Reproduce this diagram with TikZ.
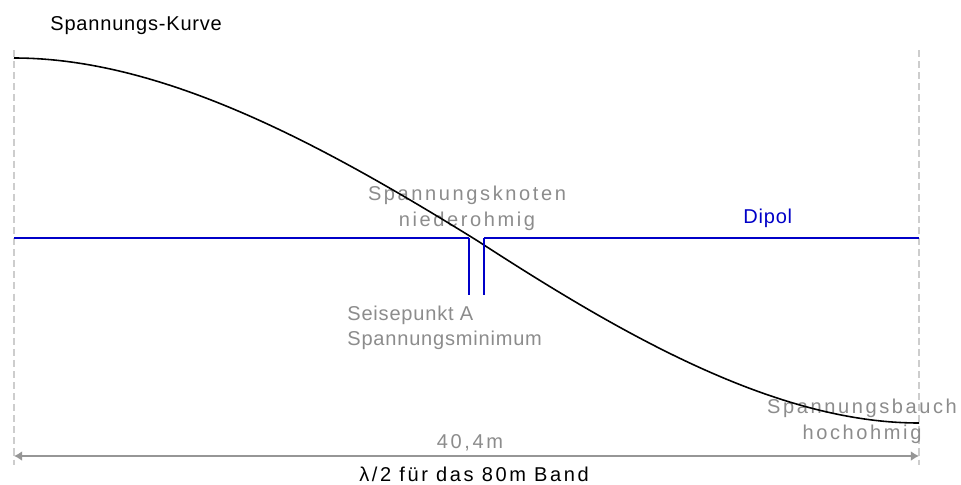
\documentclass[tikz,border=0pt]{standalone}
\usepackage{fontspec}
\usepackage{tikz}
\usetikzlibrary{positioning,arrows.meta}
\newfontfamily\plainfont[LetterSpace=4]{Liberation Sans}
\newfontfamily\widefont[LetterSpace=13]{Liberation Sans}
\definecolor{dipolblau}{RGB}{0,0,200}
\definecolor{grautext}{RGB}{140,140,140}
\definecolor{hellgrau}{RGB}{205,205,205}
\definecolor{massgrau}{RGB}{150,150,150}

\begin{document}
\begin{tikzpicture}[x=0.02cm, y=-0.02cm]
\tikzstyle{schrift}=[inner sep=0pt, font=\plainfont\fontsize{11.4}{14.4}\selectfont]
\tikzstyle{weit}=[inner sep=0pt, text=grautext, font=\widefont\fontsize{11.4}{14.8}\selectfont]
\tikzstyle{hilfslinie}=[draw=hellgrau, line width=1.1pt, dash pattern=on 4pt off 2.3pt]
\tikzstyle{kurve}=[draw=black, line width=0.9pt]
\tikzstyle{dipol}=[draw=dipolblau, line width=1.7pt]
\tikzstyle{speisung}=[draw=dipolblau, line width=1.1pt]
\tikzstyle{masslinie}=[draw=massgrau, line width=1.1pt, <->, >={Latex[length=4.6pt,width=5.6pt]}]
\fill[white] (0,0) rectangle (961,484);
\useasboundingbox (0,0) rectangle (961,484);
% Hilfslinien links und rechts
\coordinate (obenL) at (14,50);
\coordinate (untenL) at (14,465);
\coordinate (obenR) at (919,50);
\coordinate (untenR) at (919,465);
\draw[hilfslinie] (obenL) -- (untenL);
\draw[hilfslinie] (obenR) -- (untenR);
% Beschriftungen
\node[schrift, anchor=base west] (titel) at (50,30) {Spannungs-Kurve};
\node[schrift, anchor=base west, text=dipolblau] (dipoltext) at (743,223) {Dipol};
\node[weit, anchor=north, align=center] (knoten) at (467,185.5) {Spannungsknoten\\niederohmig};
\node[schrift, anchor=north west, align=left, text=grautext] (speisepunkt) at (347,305.5) {Seisepunkt A\\Spannungsminimum};
\node[weit, anchor=north, align=center] (bauch) at (862,399) {Spannungsbauch\\hochohmig};
\node[weit, anchor=base] (laenge) at (470,448) {40,4m};
\node[weit, anchor=base, text=black] (band) at (474,481) {λ/2 für das 80m Band};
% Spannungskurve
\coordinate (maximum) at (14,58);
\coordinate (nullstelle) at (477,240.5);
\coordinate (minimum) at (919,423);
\draw[kurve] (maximum) .. controls (165,58) and (326,147) .. (nullstelle)
  .. controls (621,334) and (775,423) .. (minimum);
% Dipol mit Speisepunkt
\coordinate (dipL) at (14,238);
\coordinate (spaltL) at (469,238);
\coordinate (speiseL) at (469,295);
\coordinate (spaltR) at (484,238);
\coordinate (speiseR) at (484,295);
\coordinate (dipR) at (919,238);
\draw[dipol] (dipL) -- (spaltL);
\draw[dipol] (spaltR) -- (dipR);
\draw[speisung] (spaltL) -- (speiseL);
\draw[speisung] (spaltR) -- (speiseR);
% Massangabe
\coordinate (massL) at (14,456);
\coordinate (massR) at (919,456);
\draw[masslinie] (massL) -- (massR);
\end{tikzpicture}
\end{document}
